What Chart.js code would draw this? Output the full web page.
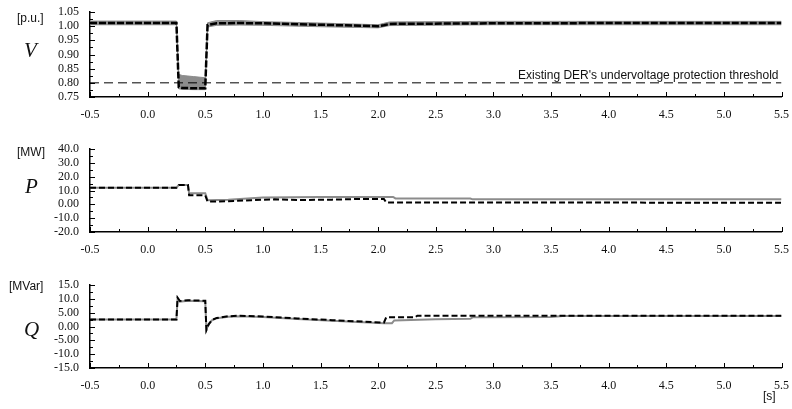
<!DOCTYPE html>
<html>
<head>
<meta charset="utf-8">
<script src="https://cdn.jsdelivr.net/npm/chart.js@4"></script>
<style>
  body { margin: 0; background: #fff; }
  #wrap { position: relative; width: 792px; height: 409px; background: #fff; overflow: hidden; }
  .panel { position: absolute; left: 0; width: 792px; height: 120px; }
  .unit { position: absolute; font: 12px "Liberation Sans", Arial, sans-serif; color: #111; }
  .sym { position: absolute; font: italic 21px "Liberation Serif", "Times New Roman", serif; color: #111; }
</style>
</head>
<body>
<div id="wrap">
  <div class="panel" style="top:0"><canvas id="chartV" width="792" height="120"></canvas></div>
  <div class="panel" style="top:135px"><canvas id="chartP" width="792" height="120"></canvas></div>
  <div class="panel" style="top:271px"><canvas id="chartQ" width="792" height="120"></canvas></div>

  <div class="unit" style="left:17px; top:11px">[p.u.]</div>
  <div class="sym" style="left:24px; top:38px">V</div>
  <div class="unit" style="left:17px; top:145px">[MW]</div>
  <div class="sym" style="left:25px; top:174px">P</div>
  <div class="unit" style="left:9px; top:279px">[MVar]</div>
  <div class="sym" style="left:24px; top:317px">Q</div>
  <div class="unit" style="left:763px; top:389px">[s]</div>
</div>

<script>
// Valores
const xTickLabels = ['-0.5', '0.0', '0.5', '1.0', '1.5', '2.0', '2.5', '3.0', '3.5', '4.0', '4.5', '5.0', '5.5'];

// Tensão [p.u.]
const vTickLabels = ['0.75', '0.80', '0.85', '0.90', '0.95', '1.00', '1.05'];
const vTime  = [-0.5, 0.25, 0.27, 0.30, 0.40, 0.50, 0.52, 0.60, 0.80, 1.00, 1.50, 2.00, 2.05, 2.10, 3.00, 4.00, 5.50];
const vMain  = [1.011, 1.011, 0.785, 0.782, 0.781, 0.781, 1.004, 1.010, 1.011, 1.010, 1.005, 1.000, 1.003, 1.008, 1.010, 1.011, 1.011];
const vUpper = [1.018, 1.018, 0.830, 0.826, 0.822, 0.818, 1.012, 1.020, 1.020, 1.016, 1.011, 1.005, 1.010, 1.015, 1.017, 1.017, 1.017];
const vLower = [1.005, 1.005, 0.779, 0.777, 0.776, 0.776, 0.997, 1.003, 1.004, 1.003, 0.998, 0.994, 0.998, 1.002, 1.005, 1.005, 1.005];
const vThreshold = 0.80;
const thresholdLabel = "Existing DER's undervoltage protection threshold";

// Potência ativa [MW]
const pTickLabels = ['-20.0', '-10.0', '0.00', '10.0', '20.0', '30.0', '40.0'];
const pTimeDash = [-0.5, 0.25, 0.27, 0.35, 0.36, 0.50, 0.52, 0.70, 0.90, 1.10, 1.30, 1.60, 1.80, 2.05, 2.07, 5.50];
const pDash     = [12.0, 12.0, 14.0, 14.0, 6.5, 6.5, 2.0, 2.2, 3.0, 3.6, 3.1, 3.4, 3.8, 3.9, 1.3, 1.2];
const pTimeGray = [-0.5, 0.25, 0.27, 0.35, 0.36, 0.50, 0.52, 0.70, 1.00, 1.50, 2.00, 2.13, 2.15, 2.80, 2.82, 5.50];
const pGray     = [12.0, 12.0, 14.0, 14.0, 8.0, 8.0, 3.0, 3.3, 5.0, 5.3, 5.3, 5.3, 4.3, 4.2, 3.6, 3.6];

// Potência reativa [MVar]
const qTickLabels = ['-15.0', '-10.0', '-5.00', '0.00', '5.00', '10.0', '15.0'];
const qTimeDash = [-0.5, 0.25, 0.26, 0.28, 0.35, 0.50, 0.51, 0.53, 0.56, 0.60, 0.70, 0.80, 1.00, 1.30, 1.60, 2.05, 2.07, 2.32, 2.34, 5.50];
const qDash     = [2.5, 2.5, 10.4, 9.2, 9.5, 9.3, -1.3, 0.8, 2.4, 3.1, 3.7, 3.9, 3.6, 2.9, 2.3, 1.4, 3.3, 3.3, 3.9, 3.9];
const qTimeGray = [-0.5, 0.25, 0.26, 0.28, 0.35, 0.50, 0.51, 0.53, 0.56, 0.60, 0.70, 0.80, 1.00, 1.30, 1.60, 2.05, 2.12, 2.14, 2.50, 2.80, 2.82, 3.50, 3.60, 5.50];
const qGray     = [2.5, 2.5, 10.2, 9.0, 9.3, 9.1, -1.1, 0.9, 2.3, 3.0, 3.5, 3.7, 3.4, 2.7, 2.1, 1.2, 1.2, 2.2, 2.6, 2.8, 3.3, 3.4, 3.8, 3.8];

const serif = '"Liberation Serif", "Times New Roman", serif';
const sans = '"Liberation Sans", Arial, sans-serif';

const pts = (t, v) => t.map((tt, i) => ({ x: tt, y: v[i] }));

// Traços internos dos eixos (maiores nos rótulos, menores no meio)
const tracosInternos = {
  id: 'tracosInternos',
  afterDraw(chart) {
    const { ctx, chartArea, scales: { x, y } } = chart;
    const yStep = chart.options.scales.y.ticks.stepSize;
    ctx.save();
    ctx.strokeStyle = '#000';
    ctx.lineWidth = 1;
    ctx.beginPath();
    for (let i = 0; i <= 24; i++) {
      const v = x.min + i * 0.25;
      const px = Math.round(x.getPixelForValue(v)) + 0.5;
      const len = i % 2 === 0 ? 5 : 3;
      ctx.moveTo(px, chartArea.bottom);
      ctx.lineTo(px, chartArea.bottom - len);
    }
    const n = Math.round((y.max - y.min) / (yStep / 2));
    for (let i = 0; i <= n; i++) {
      const v = y.min + i * yStep / 2;
      const py = Math.round(y.getPixelForValue(v)) + 0.5;
      const len = i % 2 === 0 ? 5 : 3;
      ctx.moveTo(chartArea.left, py);
      ctx.lineTo(chartArea.left + len, py);
    }
    ctx.stroke();

    // Texto do limiar no painel de tensão
    if (chart.canvas.id === 'chartV') {
      ctx.fillStyle = '#111';
      ctx.font = '12px ' + sans;
      ctx.textAlign = 'right';
      ctx.textBaseline = 'alphabetic';
      ctx.fillText(thresholdLabel, x.getPixelForValue(5.5) - 3, y.getPixelForValue(vThreshold) - 4);
    }
    ctx.restore();
  }
};

function criarPainel(id, datasets, yMin, yMax, yStep, yLabels, topPad) {
  return new Chart(document.getElementById(id), {
    type: 'line',
    data: { datasets },
    options: {
      responsive: false,
      animation: false,
      layout: { padding: { top: topPad, right: 6, left: 0, bottom: 0 } },
      plugins: { legend: { display: false }, tooltip: { enabled: false } },
      elements: { point: { radius: 0 }, line: { tension: 0 } },
      scales: {
        x: {
          type: 'linear',
          min: -0.5,
          max: 5.5,
          afterFit: s => { s.height = 23; },
          grid: { display: false },
          border: { display: true, color: '#000', width: 1.5 },
          ticks: {
            stepSize: 0.5,
            autoSkip: false,
            maxRotation: 0,
            padding: 3,
            color: '#111',
            font: { family: serif, size: 12 },
            callback: (val, i) => xTickLabels[i]
          }
        },
        y: {
          min: yMin,
          max: yMax,
          afterFit: s => { s.width = 90; },
          grid: { display: false },
          border: { display: true, color: '#000', width: 1.5 },
          ticks: {
            stepSize: yStep,
            autoSkip: false,
            padding: 3,
            color: '#111',
            font: { family: serif, size: 12 },
            callback: (val, i) => yLabels[i]
          }
        }
      }
    },
    plugins: [tracosInternos]
  });
}

// order maior = desenhado por baixo
criarPainel('chartV', [
  { data: pts(vTime, vUpper), borderColor: '#8c8c8c', borderWidth: 1, backgroundColor: '#8c8c8c', fill: '+1', order: 3 },
  { data: pts(vTime, vLower), borderColor: '#8c8c8c', borderWidth: 1, fill: false, order: 3 },
  { data: pts([-0.5, 5.5], [vThreshold, vThreshold]), borderColor: '#000', borderWidth: 1, borderDash: [9, 5], fill: false, order: 2 },
  { data: pts(vTime, vMain), borderColor: '#000', borderWidth: 2.5, borderDash: [7, 2], fill: false, order: 0 }
], 0.75, 1.05, 0.05, vTickLabels, 12);

criarPainel('chartP', [
  { data: pts(pTimeGray, pGray), borderColor: '#8c8c8c', borderWidth: 2, fill: false, order: 2 },
  { data: pts(pTimeDash, pDash), borderColor: '#000', borderWidth: 2, borderDash: [6, 3], fill: false, order: 0 }
], -20, 40, 10, pTickLabels, 14);

criarPainel('chartQ', [
  { data: pts(qTimeGray, qGray), borderColor: '#8c8c8c', borderWidth: 2, fill: false, order: 2 },
  { data: pts(qTimeDash, qDash), borderColor: '#000', borderWidth: 2, borderDash: [6, 3], fill: false, order: 0 }
], -15, 15, 5, qTickLabels, 14);
</script>
</body>
</html>
